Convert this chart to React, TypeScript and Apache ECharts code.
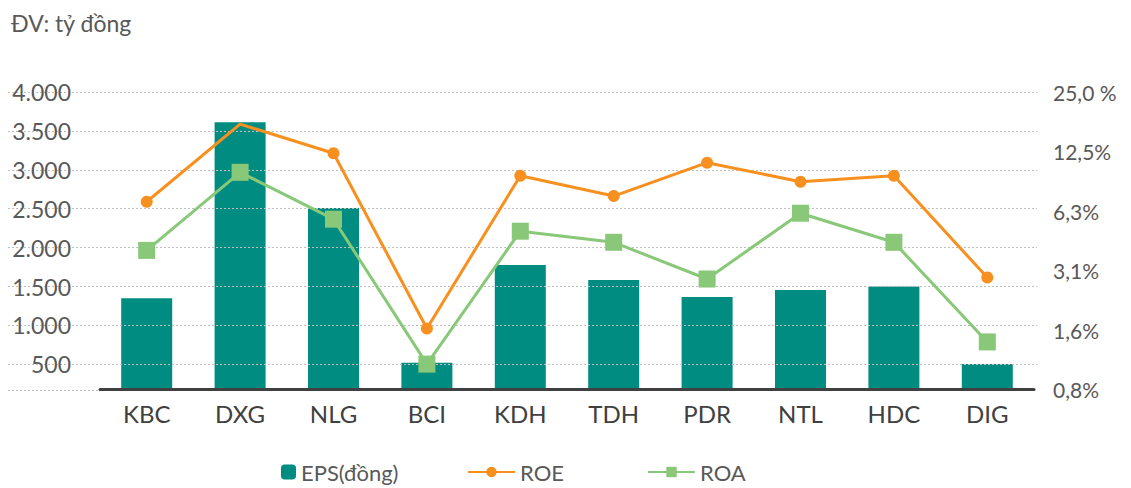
import React, { useEffect, useRef } from "react";
import * as echarts from "echarts";

const categories = ["KBC", "DXG", "NLG", "BCI", "KDH", "TDH", "PDR", "NTL", "HDC", "DIG"];
const epsValues = [1350, 3610, 2510, 520, 1775, 1585, 1365, 1455, 1500, 505];
const roeValues = [6.96, 17.2, 12.25, 1.59, 9.42, 7.44, 10.97, 8.79, 9.42, 2.88];
const roaValues = [3.95, 9.81, 5.68, 1.05, 4.94, 4.34, 2.83, 6.09, 4.34, 1.36];
const rightTickLabels = ["0,8%", "1,6%", "3,1%", "6,3%", "12,5%", "25,0 %"];
const leftTicks = { min: 0, max: 4000, interval: 500 };
const barAxisRange = { min: 176, max: 4000 };
const pctAxisRange = { min: 0.78125, max: 25 };

const FONT = "Lato";
const TEXT = "#595959";
const TEAL = "#008C80";
const ORANGE = "#F7901E";
const GREEN = "#88C878";

export default function App() {
  const ref = useRef<HTMLDivElement>(null);
  useEffect(() => {
    if (!ref.current) return;
    const chart = echarts.init(ref.current, null, { renderer: "svg" });
    const fmt = (v: number) => v.toLocaleString("de-DE");
    const legendText = { fontFamily: FONT, fontSize: 22, color: TEXT };
    chart.setOption({
      animation: false,
      textStyle: { fontFamily: FONT },
      title: {
        text: "ĐV: tỷ đồng",
        left: 6,
        top: 6,
        textStyle: { fontFamily: FONT, fontSize: 23, fontWeight: "normal", color: TEXT },
      },
      legend: [
        {
          data: ["EPS(đồng)"],
          left: 276,
          top: 456,
          itemWidth: 15,
          itemHeight: 15,
          textStyle: legendText,
        },
        {
          data: ["ROE"],
          left: 462,
          top: 456,
          itemWidth: 47,
          itemHeight: 13,
          textStyle: legendText,
        },
        {
          data: ["ROA"],
          left: 642,
          top: 456,
          itemWidth: 47,
          itemHeight: 13,
          textStyle: legendText,
        },
      ],
      grid: [
        { left: 100, right: 97, top: 92, bottom: 98.5 },
        { left: 8, right: 94, top: 92, bottom: 84.8 },
      ],
      xAxis: [
        {
          type: "category",
          gridIndex: 0,
          data: categories,
          z: 3,
          axisLine: { show: true, lineStyle: { color: "#404040", width: 3 } },
          axisTick: { show: false },
          axisLabel: { fontFamily: FONT, fontSize: 24, color: "#404040", margin: 12 },
        },
        { type: "value", gridIndex: 1, show: false, min: 0, max: 1 },
      ],
      yAxis: [
        { type: "value", gridIndex: 0, show: false, min: barAxisRange.min, max: barAxisRange.max },
        {
          type: "log",
          gridIndex: 0,
          show: false,
          logBase: 2,
          min: pctAxisRange.min,
          max: pctAxisRange.max,
          position: "right",
        },
        {
          type: "value",
          gridIndex: 0,
          position: "right",
          min: 0,
          max: rightTickLabels.length - 1,
          interval: 1,
          axisLine: { show: false },
          axisTick: { show: false },
          splitLine: { show: false },
          axisLabel: {
            margin: 19,
            fontFamily: FONT,
            fontSize: 21,
            color: TEXT,
            padding: [0, 0, 6, 0],
            formatter: (v: number) => rightTickLabels[Math.round(v)] ?? "",
          },
        },
        {
          type: "value",
          gridIndex: 1,
          min: leftTicks.min,
          max: leftTicks.max,
          interval: leftTicks.interval,
          z: 3,
          axisLine: { show: false },
          axisTick: { show: false },
          splitLine: {
            show: true,
            showMinLine: false,
            lineStyle: { color: "#BFBFBF", width: 1, type: [2, 2] },
          },
          axisLabel: {
            inside: true,
            align: "right",
            margin: 63,
            showMinLabel: false,
            fontFamily: FONT,
            fontSize: 23,
            color: TEXT,
            padding: [0, 0, 16, 0],
            formatter: fmt,
          },
        },
      ],
      graphic: [
        {
          type: "line",
          shape: { x1: 8, y1: 390.5, x2: 100, y2: 390.5 },
          style: { stroke: "#BFBFBF", lineWidth: 1, lineDash: [2, 2] },
        },
      ],
      series: [
        {
          name: "EPS(đồng)",
          type: "bar",
          xAxisIndex: 0,
          yAxisIndex: 0,
          data: epsValues,
          barWidth: 51,
          z: 2,
          itemStyle: { color: TEAL },
        },
        {
          name: "ROE",
          type: "line",
          xAxisIndex: 0,
          yAxisIndex: 1,
          data: roeValues.map((v, i) => (i === 1 ? { value: v, symbol: "none" } : v)),
          symbol: "circle",
          symbolSize: 12,
          z: 5,
          lineStyle: { color: ORANGE, width: 3 },
          itemStyle: { color: ORANGE },
        },
        {
          name: "ROA",
          type: "line",
          xAxisIndex: 0,
          yAxisIndex: 1,
          data: roaValues,
          symbol: "rect",
          symbolSize: 17,
          z: 4,
          lineStyle: { color: GREEN, width: 3 },
          itemStyle: { color: GREEN },
        },
      ],
    });
    return () => chart.dispose();
  }, []);
  return (
    <div
      ref={ref}
      style={{ position: "fixed", left: 0, top: 0, width: 1131, height: 488, background: "#fff" }}
    />
  );
}
